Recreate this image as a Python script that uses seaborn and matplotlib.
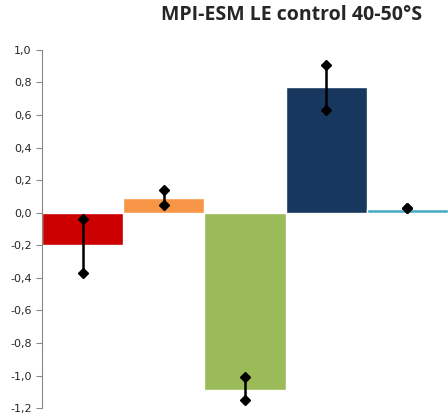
import seaborn as sns
import matplotlib.pyplot as plt
import pandas as pd

# Bar values and error bar ends
groups = ["a", "b", "c", "d", "e"]
values = [-0.20, 0.09, -1.09, 0.77, 0.02]
err_low = [-0.37, 0.05, -1.15, 0.63, 0.03]
err_high = [-0.04, 0.14, -1.01, 0.91, 0.03]
colors = ["#cc0000", "#f79646", "#9bbb59", "#17375e", "#4bacc6"]

df = pd.DataFrame({"group": groups, "value": values})

sns.set_style("white")
fig = plt.figure(figsize=(4.48, 4.19), dpi=100)
ax = fig.add_axes([0.094, 0.026, 0.906, 0.855])

sns.barplot(data=df, x="group", y="value", hue="group", palette=colors,
            width=1.0, legend=False, ax=ax, saturation=1)

for i in range(len(groups)):
    ax.plot([i, i], [err_low[i], err_high[i]], color="black", lw=1.8,
            marker="D", markersize=5)

ax.set_ylim(-1.2, 1.0)
ax.set_xlim(-0.5, 4.5)
ticks = [round(-1.2 + 0.2 * k, 1) for k in range(12)]
ax.set_yticks(ticks)
ax.set_yticklabels([f"{t:.1f}".replace(".", ",").replace("-", "-") for t in ticks], fontsize=8)
ax.tick_params(axis="y", direction="out", length=4, left=True, color="#888888")
ax.set_xticks([])
ax.set_xlabel("")
ax.set_ylabel("")
for s in ["top", "right", "bottom"]:
    ax.spines[s].set_visible(False)
ax.spines["left"].set_color("#888888")

fig.text(0.65, 0.965, "MPI-ESM LE control 40-50°S", ha="center", va="center",
         fontsize=14, fontweight="bold", family="Open Sans")

fig.savefig("out.png", dpi=100)
